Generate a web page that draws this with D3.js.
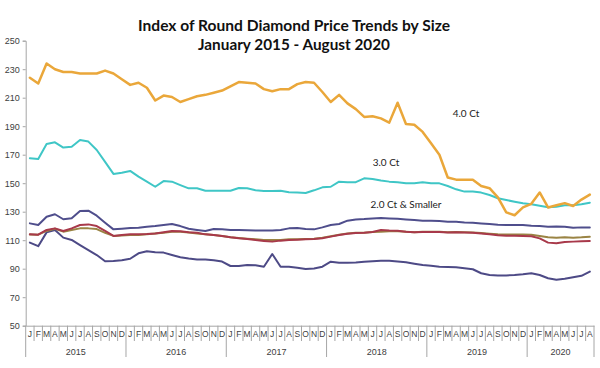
<!DOCTYPE html>
<html>
<head>
<meta charset="utf-8">
<script src="https://cdn.jsdelivr.net/npm/d3@7/dist/d3.min.js"></script>
<style>
  html, body { margin: 0; padding: 0; background: #ffffff; }
  svg { display: block; }
</style>
</head>
<body>
<svg id="chart" width="600" height="368"></svg>
<script>
// ---- data ----
const years = ["2015", "2016", "2017", "2018", "2019", "2020"];
const monthLetters = ["J","F","M","A","M","J","J","A","S","O","N","D"];
const monthsInLastYear = 8;
const yTicks = [50, 70, 90, 110, 130, 150, 170, 190, 210, 230, 250];

const ct40 = [224, 220, 234, 230, 228, 228, 227, 227, 227, 229, 227, 223,
  219, 220.5, 217, 208, 211.5, 210.5, 207, 209, 211, 212, 213.5, 215,
  218, 221, 220.5, 220, 216, 214.5, 216, 216, 219.5, 221, 220.5, 214,
  207, 212, 206, 202, 196.5, 197, 195.5, 192.5, 206.5, 191.5, 191, 186,
  178, 170, 154, 152.5, 152.5, 152.5, 148, 146.5, 140, 129.5, 127.5, 133,
  135.5, 143.5, 133, 134.5, 136, 134, 138.5, 142];

const ct30 = [167.5, 167, 177.5, 178.7, 175, 175.6, 180.3, 179.2, 173.3, 165, 156.5, 157.4,
  158.6, 154.6, 151.1, 147.5, 151.5, 151.1, 148.7, 146.4, 146.4, 144.7, 144.7, 144.7,
  144.7, 146.6, 146.4, 145, 144.5, 144.5, 144.7, 143.6, 143.5, 143.1, 145, 147.1,
  147.5, 151.1, 150.7, 150.7, 153.4, 153, 151.9, 151.1, 150.7, 149.9, 149.9, 150.7,
  149.9, 149.9, 148, 145.7, 144.1, 144.1, 143.4, 141.7, 139.4, 138.2, 137, 135.9,
  135.2, 134.2, 133.1, 133.5, 134.5, 134.5, 135.2, 136.3];

const ctNavyTop = [121.8, 120.7, 126.5, 128.2, 124.7, 125.4, 130.5, 130.7, 127.2, 122.3, 117.6, 118,
  118.5, 118.7, 119.5, 119.9, 120.7, 121.4, 119.9, 118, 117.2, 116.5, 117.8, 117.6,
  117.2, 117.2, 117, 116.8, 116.8, 116.8, 117.2, 118.3, 118.5, 117.8, 117.6, 119,
  120.7, 121.4, 123.7, 124.6, 124.8, 125.3, 125.5, 125.3, 125, 124.6, 124.1, 123.7,
  123.7, 123.4, 123, 123, 122.5, 122.3, 121.8, 121.4, 120.9, 120.7, 120.7, 120.7,
  120.2, 119.9, 119.5, 119.7, 119.5, 118.7, 119, 119];

const ctRed = [114.1, 113.9, 117.2, 118.3, 116.5, 118.3, 120.7, 121.1, 119.9, 116.5, 113, 113.6,
  114.1, 114.1, 114.3, 114.7, 115.6, 116.5, 116.3, 115.6, 115.2, 114.1, 113.6, 113,
  112, 111.3, 110.9, 110.1, 109.5, 109, 109.7, 110.1, 110.3, 110.6, 110.8, 111.3,
  112.5, 113.6, 114.5, 115, 115.2, 115.8, 117.2, 116.8, 116.7, 116, 115.5, 115.8,
  115.8, 115.8, 115.4, 115.6, 115.4, 115.2, 114.7, 114.2, 113.5, 113.2, 113.2, 113,
  112.8, 111.3, 108.3, 107.8, 108.8, 109, 109.2, 109.4];

const ctOlive = [114, 113.9, 116.5, 118, 116, 117.2, 118.3, 118.3, 117.8, 115.2, 113, 113.3,
  113.6, 113.6, 114.1, 114.7, 115.2, 116, 116, 115.4, 114.7, 114.1, 113.6, 113,
  112, 111.6, 111.1, 110.6, 110.1, 110.1, 110.1, 110.6, 110.6, 110.8, 111, 111.8,
  112.8, 113.8, 114.7, 115.2, 115.2, 115.8, 116, 116.2, 116.2, 116, 115.6, 116,
  116, 116, 115.6, 115.8, 115.6, 115.4, 115, 114.6, 114.2, 114, 114, 114,
  113.8, 113, 112, 111.8, 112, 111.8, 112, 112.4];

const ctNavyLow = [108.3, 105.8, 115.5, 117.2, 111.8, 110.2, 106.6, 103.1, 99.6, 95.2, 95.4, 96,
  97, 100.8, 102.2, 101.5, 101.3, 99.6, 98, 97.1, 96.5, 96.5, 96, 95,
  91.9, 91.9, 92.6, 92.4, 91.4, 100.3, 91.4, 91.4, 90.7, 89.8, 90.2, 91.4,
  94.9, 94.2, 94.2, 94.4, 94.9, 95.3, 95.6, 95.5, 95, 94.5, 93.5, 92.6,
  92, 91.4, 91.2, 91, 90.3, 89.6, 86.8, 85.6, 85.2, 85.3, 85.6, 86.1,
  86.8, 85.6, 83.3, 82.2, 82.9, 84, 85, 88];

const titleLines = ["Index of Round Diamond Price Trends by Size", "January 2015 - August 2020"];
const seriesLabels = [
  {text: "4.0 Ct", x: 466, y: 113},
  {text: "3.0 Ct", x: 386, y: 162},
  {text: "2.0 Ct & Smaller", x: 406, y: 204}
];

// ---- build categories ----
const categories = [];
years.forEach((yr, yi) => {
  const n = yi === years.length - 1 ? monthsInLastYear : 12;
  for (let m = 0; m < n; m++) categories.push({key: yr + "-" + m, year: yr, letter: monthLetters[m]});
});

const svg = d3.select("#chart");
const plotLeft = 25.7, plotRight = 594, plotTop = 40.7, plotBottom = 325.7;

const x = d3.scaleBand().domain(categories.map(d => d.key)).range([plotLeft, plotRight]).paddingInner(0).paddingOuter(0);
const y = d3.scaleLinear().domain([50, 250]).range([plotBottom, plotTop]);

const axisColor = "#a6a6a6";
const textColor = "#404040";

// Y axis
const yAxis = d3.axisLeft(y).tickValues(yTicks).tickSize(3).tickPadding(3);
const gy = svg.append("g").attr("transform", `translate(${plotLeft},0)`).call(yAxis);
gy.select(".domain").attr("stroke", axisColor);
gy.selectAll(".tick line").attr("stroke", axisColor);
gy.selectAll(".tick text").attr("fill", textColor)
  .style("font-family", "Liberation Sans, Arial, sans-serif").style("font-size", "9px");

// X axis with month letters
const xAxis = d3.axisBottom(x).tickFormat((k, i) => categories[i].letter).tickSize(0).tickPadding(5);
const gx = svg.append("g").attr("transform", `translate(0,${plotBottom})`).call(xAxis);
gx.select(".domain").attr("stroke", axisColor);
gx.selectAll(".tick text").attr("fill", textColor)
  .style("font-family", "Liberation Sans, Arial, sans-serif").style("font-size", "8.5px");

// month separators
const sepG = svg.append("g");
categories.forEach((d, i) => {
  const xb = x(d.key);
  const isYearStart = i === 0 || (d.letter === "J" && categories[i-1].year !== d.year);
  sepG.append("line")
    .attr("x1", xb).attr("x2", xb)
    .attr("y1", plotBottom).attr("y2", isYearStart ? 357 : 341)
    .attr("stroke", axisColor).attr("stroke-width", 1);
});
sepG.append("line").attr("x1", plotRight).attr("x2", plotRight).attr("y1", plotBottom).attr("y2", 357)
  .attr("stroke", axisColor);

// year labels
years.forEach(yr => {
  const ks = categories.filter(c => c.year === yr);
  const x0 = x(ks[0].key), x1 = x(ks[ks.length-1].key) + x.bandwidth();
  svg.append("text").attr("x", (x0 + x1) / 2).attr("y", 355)
    .attr("text-anchor", "middle").attr("fill", textColor)
    .style("font-family", "Liberation Sans, Arial, sans-serif").style("font-size", "9px")
    .text(yr);
});

// lines
const line = d3.line()
  .x((v, i) => x(categories[i].key) + x.bandwidth() / 2)
  .y(v => y(v))
  .curve(d3.curveLinear);

const series = [
  {data: ctNavyLow, color: "#4d4a86", w: 2},
  {data: ctOlive, color: "#9a8444", w: 2},
  {data: ctRed, color: "#a8394a", w: 2},
  {data: ctNavyTop, color: "#4f4e8c", w: 2},
  {data: ct30, color: "#3fc6c6", w: 2},
  {data: ct40, color: "#eaa73a", w: 2.5}
];
series.forEach(s => {
  svg.append("path").datum(s.data)
    .attr("d", line).attr("fill", "none")
    .attr("stroke", s.color).attr("stroke-width", s.w)
    .attr("stroke-linejoin", "round").attr("stroke-linecap", "round");
});

// series labels
seriesLabels.forEach(l => {
  svg.append("text").attr("x", l.x).attr("y", l.y).attr("dy", "0.35em")
    .attr("text-anchor", "middle").attr("fill", "#222")
    .style("font-family", "Lato, 'Open Sans', sans-serif").style("font-size", "10px")
    .text(l.text);
});

// title
const titleY = [31, 50];
const titleW = [312, 192];
titleLines.forEach((t, i) => {
  const el = svg.append("text").attr("x", 294).attr("y", titleY[i])
    .attr("text-anchor", "middle").attr("fill", "#111")
    .style("font-family", "Lato, 'Open Sans', sans-serif").style("font-weight", "bold")
    .style("font-size", "16px").text(t);
  const w = el.node().getComputedTextLength();
  el.style("font-size", (16 * titleW[i] / w).toFixed(2) + "px");
});
</script>
</body>
</html>
